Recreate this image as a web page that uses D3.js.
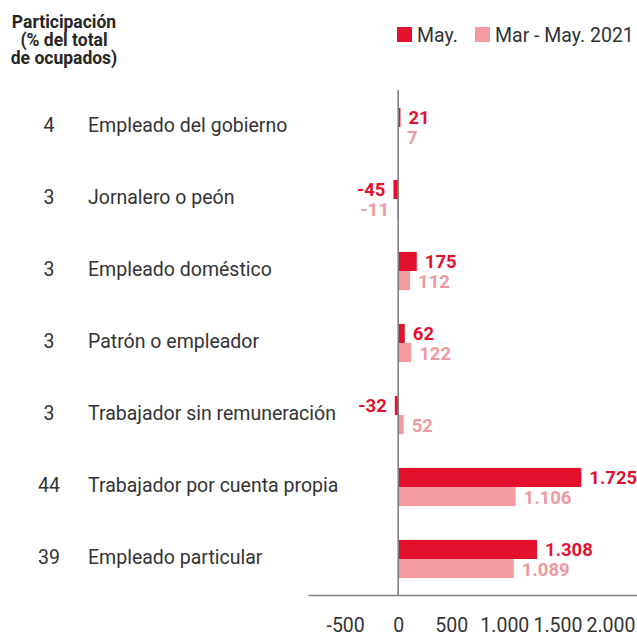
<!DOCTYPE html>
<html>
<head>
<meta charset="utf-8">
<script src="https://cdn.jsdelivr.net/npm/d3@7"></script>
<style>
  body { margin: 0; background: #fff; }
  svg text { font-family: "Roboto", "Liberation Sans", sans-serif; }
</style>
</head>
<body>
<svg id="chart" width="637" height="633"></svg>
<script>
// categories, top to bottom
var categories = ["Empleado del gobierno", "Jornalero o peón", "Empleado doméstico",
    "Patrón o empleador", "Trabajador sin remuneración",
    "Trabajador por cuenta propia", "Empleado particular"];
var participation = [4, 3, 3, 3, 3, 44, 39];
var seriesNames = ["May.", "Mar - May. 2021"];
var valuesMay = [21, -45, 175, 62, -32, 1725, 1308];
var valuesMarMay = [7, -11, 112, 122, 52, 1106, 1089];
var tickValues = [-500, 0, 500, 1000, 1500, 2000];
var headerLines = ["Participación", "(% del total", "de ocupados)"];

var colors = ["#e3102e", "#f29ca2"];
var labelColors = ["#e3102e", "#ee9aa0"];

var esLocale = d3.formatLocale({decimal: ",", thousands: ".", grouping: [3], currency: ["$", ""], minus: "-"});
var fmt = esLocale.format(",d");

var svg = d3.select("#chart");

var x = d3.scaleLinear().domain([-850, 2250]).range([308, 637]);
var y = d3.scaleBand().domain(categories).range([91, 595])
    .paddingInner(0.47).paddingOuter(0.235);
var ySub = d3.scaleBand().domain(seriesNames).range([0, y.bandwidth()]);

var rows = categories.map(function (c, i) {
    return {cat: c, part: participation[i], vals: [valuesMay[i], valuesMarMay[i]]};
});

// header
svg.append("text")
    .attr("x", 64)
    .attr("y", 28)
    .attr("text-anchor", "middle")
    .style("font-weight", "bold")
    .style("font-size", "17.5px")
    .style("fill", "#262626")
    .selectAll("tspan").data(headerLines).enter().append("tspan")
    .attr("x", 64)
    .attr("dy", function (d, i) { return i == 0 ? 0 : 18; })
    .text(function (d) { return d; });

// legend
var legend = svg.append("g").selectAll("g").data(seriesNames).enter().append("g")
    .attr("transform", function (d, i) { return "translate(" + [397, 475][i] + ",27)"; });
legend.append("rect")
    .attr("width", 15).attr("height", 15)
    .style("fill", function (d, i) { return colors[i]; });
legend.append("text")
    .attr("x", 20).attr("y", 15)
    .style("font-size", "19.5px")
    .style("fill", "#333")
    .text(function (d) { return d; });

// row labels
var rowG = svg.append("g").selectAll("g").data(rows).enter().append("g")
    .attr("transform", function (d) { return "translate(0," + (y(d.cat) + y.bandwidth() / 2) + ")"; });
rowG.append("text")
    .attr("x", 49).attr("y", 5)
    .attr("text-anchor", "middle")
    .style("font-size", "19.5px")
    .style("fill", "#333")
    .text(function (d) { return d.part; });
rowG.append("text")
    .attr("x", 88).attr("y", 5)
    .style("font-size", "19.5px")
    .style("fill", "#333")
    .text(function (d) { return d.cat; });

// bars
var barG = svg.append("g").selectAll("g").data(rows).enter().append("g")
    .attr("transform", function (d) { return "translate(0," + y(d.cat) + ")"; });

var cells = barG.selectAll("g").data(function (d) {
        return d.vals.map(function (v, i) { return {v: v, s: i}; });
    }).enter().append("g");

cells.append("rect")
    .attr("x", function (d) { return x(Math.min(0, d.v)); })
    .attr("y", function (d) { return ySub(seriesNames[d.s]); })
    .attr("width", function (d) { return Math.abs(x(d.v) - x(0)); })
    .attr("height", ySub.bandwidth())
    .style("fill", function (d) { return colors[d.s]; });

cells.append("text")
    .attr("x", function (d) { return d.v >= 0 ? x(d.v) + 8 : x(d.v) - 8; })
    .attr("y", function (d) { return ySub(seriesNames[d.s]) + ySub.bandwidth() / 2 + 7; })
    .attr("text-anchor", function (d) { return d.v >= 0 ? "start" : "end"; })
    .style("font-size", "18.5px")
    .style("font-weight", "bold")
    .style("fill", function (d) { return labelColors[d.s]; })
    .text(function (d) { return fmt(d.v); });

// zero line
svg.append("line")
    .attr("x1", x(0)).attr("x2", x(0))
    .attr("y1", 90).attr("y2", 595)
    .style("stroke", "#808080")
    .style("stroke-width", 1.6);

// x axis
var xAxis = d3.axisBottom(x)
    .tickValues(tickValues)
    .tickSize(0)
    .tickSizeOuter(0)
    .tickPadding(23)
    .tickFormat(fmt);

var axisG = svg.append("g")
    .attr("transform", "translate(0,595)")
    .call(xAxis);
axisG.select(".domain").style("stroke", "#808080").style("stroke-width", 1.6);
axisG.selectAll("text")
    .style("font-size", "19.5px")
    .style("fill", "#333")
    .attr("font-family", null);
</script>
</body>
</html>
